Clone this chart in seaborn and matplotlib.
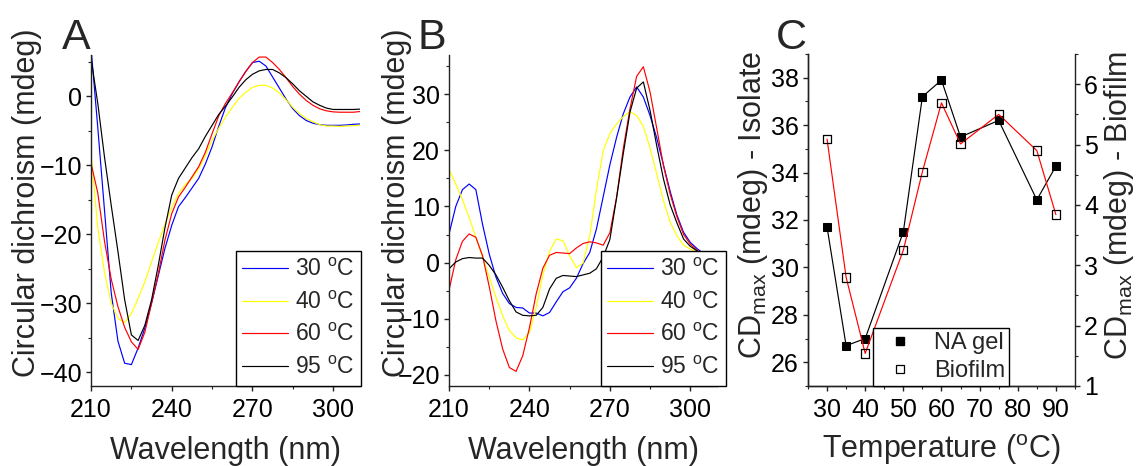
import matplotlib
matplotlib.use("Agg")
import matplotlib.pyplot as plt
import pandas as pd
import seaborn as sns
from matplotlib.lines import Line2D
from matplotlib.ticker import MultipleLocator

# ---------------- data ----------------
wavelength = [210, 212.5, 215, 217.5, 220, 222.5, 225, 227.5, 230, 232.5,
              235, 237.5, 240, 242.5, 245, 247.5, 250, 252.5, 255, 257.5,
              260, 262.5, 265, 267.5, 270, 272.5, 275, 277.5, 280, 282.5,
              285, 287.5, 290, 292.5, 295, 297.5, 300, 302.5, 305, 307.5, 310]

# Panel A: CD spectra (mdeg)
a_30 = [7.0, -4.5, -16.5, -28.5, -35.5, -38.7, -38.9, -36.5, -33.6, -30.0,
        -26.0, -22.0, -18.7, -16.0, -14.7, -13.3, -11.9, -9.8, -7.3, -4.3,
        -1.6, 0.4, 2.1, 3.6, 4.9, 5.1, 4.4, 2.8, 1.2, -0.4,
        -1.8, -2.8, -3.5, -3.9, -4.1, -4.2, -4.2, -4.2, -4.15, -4.05, -4.0]
a_40 = [-8.3, -19.0, -25.5, -30.0, -32.2, -32.8, -31.5, -29.3, -26.9, -24.0,
        -21.2, -18.5, -16.1, -14.1, -12.8, -11.9, -10.5, -8.6, -6.4, -4.6,
        -3.0, -1.6, -0.3, 0.6, 1.3, 1.6, 1.6, 1.2, 0.5, -0.5,
        -1.6, -2.5, -3.2, -3.7, -4.1, -4.3, -4.3, -4.35, -4.3, -4.25, -4.2]
a_60 = [-9.7, -14.0, -21.0, -26.5, -30.5, -33.5, -35.6, -36.7, -34.2, -30.0,
        -25.7, -20.8, -17.0, -14.6, -13.2, -11.7, -10.2, -8.1, -5.4, -2.8,
        -1.0, 0.5, 2.1, 3.6, 4.9, 5.7, 5.7, 4.9, 3.9, 2.7,
        1.4, 0.3, -0.6, -1.3, -1.8, -2.1, -2.25, -2.3, -2.3, -2.3, -2.2]
a_95 = [5.5, -1.0, -8.8, -15.8, -22.5, -29.5, -34.6, -35.4, -33.2, -29.5,
        -24.5, -19.0, -14.3, -11.9, -10.4, -8.9, -7.6, -5.8, -4.2, -2.6,
        -1.4, -0.1, 1.3, 2.4, 3.2, 3.7, 3.9, 3.9, 3.4, 2.7,
        1.8, 0.8, 0.0, -0.8, -1.3, -1.7, -1.9, -1.9, -1.9, -1.9, -1.85]

# Panel B: CD spectra (mdeg)
b_30 = [5.1, 10.0, 13.0, 14.0, 13.0, 6.8, 1.5, -2.6, -5.5, -7.3,
        -8.0, -8.1, -9.0, -9.0, -9.5, -8.9, -7.0, -5.2, -4.5, -2.8,
        -0.2, 1.8, 6.0, 11.7, 17.4, 22.3, 26.5, 29.5, 31.3, 29.5,
        26.2, 22.2, 17.4, 12.7, 8.5, 5.4, 3.6, 2.5, 1.6, 0.4, -0.6]
b_40 = [16.6, 14.0, 11.2, 8.0, 4.5, 1.0, -2.6, -6.2, -9.5, -12.1,
        -13.4, -13.8, -12.5, -8.0, -2.2, 2.0, 4.2, 3.9, 1.2, -0.9,
        -0.1, 4.8, 13.0, 19.9, 23.0, 24.7, 26.0, 26.9, 26.2, 24.3,
        20.4, 15.8, 11.0, 7.2, 4.8, 3.1, 2.4, 1.9, 1.2, 0.4, -0.4]
b_60 = [-4.9, 0.5, 3.8, 5.1, 4.5, 1.2, -4.3, -10.4, -15.4, -18.7,
        -19.4, -16.6, -11.6, -5.6, -1.0, 1.3, 1.8, 1.7, 1.6, 2.6,
        3.4, 3.7, 3.5, 3.1, 5.3, 11.6, 20.3, 27.4, 33.2, 34.9,
        30.4, 23.9, 17.3, 12.2, 8.2, 5.0, 3.3, 2.2, 1.3, 0.3, -0.5]
b_95 = [-1.1, 0.1, 0.7, 0.9, 0.8, 0.8, -0.5, -2.2, -4.4, -6.8,
        -8.8, -9.4, -9.5, -9.4, -8.0, -4.7, -2.8, -2.3, -2.4, -2.5,
        -2.2, -1.9, -1.1, 1.0, 4.1, 11.5, 19.4, 26.8, 31.1, 32.2,
        27.1, 20.8, 14.9, 10.3, 7.1, 4.2, 2.9, 2.1, 1.2, 0.3, -0.5]

# Panel C: CDmax vs temperature
temperature = [30, 35, 40, 50, 55, 60, 65, 75, 85, 90]
cdmax_isolate = [31.7, 26.7, 27.0, 31.5, 37.2, 37.9, 35.5, 36.2, 32.85, 34.27]
cdmax_biofilm = [5.09, 2.80, 1.54, 3.25, 4.55, 5.69, 5.01, 5.50, 4.90, 3.84]

temp_labels = ["30 $^{\\mathregular{o}}$C", "40 $^{\\mathregular{o}}$C",
               "60 $^{\\mathregular{o}}$C", "95 $^{\\mathregular{o}}$C"]
line_colors = ["#0000FF", "#FFFF00", "#FF0000", "#000000"]

# ---------------- style ----------------
sns.set_style("ticks")
plt.rcParams.update({
    "font.family": ["Liberation Sans", "DejaVu Sans"],
    "mathtext.fontset": "custom",
    "mathtext.rm": "Liberation Sans",
    "mathtext.it": "Liberation Sans:italic",
    "mathtext.bf": "Liberation Sans:bold",
    "axes.edgecolor": "#222222",
    "axes.linewidth": 1.0,
    "xtick.color": "#222222",
    "ytick.color": "#222222",
    "xtick.labelcolor": "black",
    "ytick.labelcolor": "black",
    "xtick.direction": "out",
    "ytick.direction": "out",
    "xtick.major.size": 3.5,
    "ytick.major.size": 3.5,
    "xtick.minor.size": 2.0,
    "ytick.minor.size": 2.0,
    "xtick.major.width": 1.0,
    "ytick.major.width": 1.0,
    "xtick.minor.width": 0.8,
    "ytick.minor.width": 0.8,
    "xtick.major.pad": 5,
    "ytick.major.pad": 3,
})

TICK_FS = 18
LABEL_FS = 22
LEG_FS = 16.5
LETTER_FS = 31
LW = 0.85

fig = plt.figure(figsize=(11.38, 4.66), dpi=100)
ax_a = fig.add_axes([0.0800, 0.1717, 0.2364, 0.7103])
ax_b = fig.add_axes([0.3946, 0.1717, 0.2355, 0.7103])
ax_c = fig.add_axes([0.7100, 0.1717, 0.2346, 0.7124])

XLABEL_Y = -0.150
YLABEL_Y = 0.553


def spectra_panel(ax, series, ylim, ymajor, leg_x, ylab_x):
    for vals, lab, col in zip(series, temp_labels, line_colors):
        df = pd.DataFrame({"wl": wavelength, "cd": vals})
        sns.lineplot(data=df, x="wl", y="cd", ax=ax, color=col, lw=LW,
                     label=lab, estimator=None, sort=False)
    ax.set_xlim(210, 310)
    ax.set_ylim(*ylim)
    ax.xaxis.set_major_locator(MultipleLocator(30))
    ax.xaxis.set_minor_locator(MultipleLocator(15))
    ax.yaxis.set_major_locator(MultipleLocator(ymajor))
    ax.yaxis.set_minor_locator(MultipleLocator(ymajor / 2))
    ax.tick_params(labelsize=TICK_FS)
    sns.despine(ax=ax)
    ax.set_xlabel("Wavelength (nm)", fontsize=LABEL_FS)
    ax.set_ylabel("Circular dichroism (mdeg)", fontsize=LABEL_FS)
    ax.xaxis.set_label_coords(0.5, XLABEL_Y)
    ax.yaxis.set_label_coords(ylab_x, YLABEL_Y)
    leg = ax.legend(loc="lower right", bbox_to_anchor=(leg_x, 0.0),
                    borderaxespad=0, fontsize=LEG_FS, frameon=True,
                    fancybox=False, edgecolor="black", framealpha=1,
                    handlelength=2.0, handletextpad=0.3, labelspacing=0.42,
                    borderpad=0.3)
    leg.get_frame().set_linewidth(1.0)


spectra_panel(ax_a, [a_30, a_40, a_60, a_95], (-42, 6), 10, 1.004, -0.182)
spectra_panel(ax_b, [b_30, b_40, b_60, b_95], (-22, 37), 10, 1.034, -0.138)

# Panel C: twin axes
sns.lineplot(x=temperature, y=cdmax_isolate, ax=ax_c, color="black", lw=LW,
             marker="s", markersize=6, markerfacecolor="black",
             markeredgecolor="black", estimator=None, sort=False)
ax_c2 = ax_c.twinx()
sns.lineplot(x=temperature, y=cdmax_biofilm, ax=ax_c2, color="red", lw=LW,
             estimator=None, sort=False)
sns.scatterplot(x=temperature, y=cdmax_biofilm, ax=ax_c2, marker="s", s=36,
                facecolor="none", edgecolor="black", linewidth=0.9, zorder=3)

ax_c.set_xlim(25, 95)
ax_c.set_ylim(25, 39)
ax_c2.set_ylim(1, 6.5)
ax_c.xaxis.set_major_locator(MultipleLocator(10))
ax_c.xaxis.set_minor_locator(MultipleLocator(5))
ax_c.yaxis.set_major_locator(MultipleLocator(2))
ax_c.yaxis.set_minor_locator(MultipleLocator(1))
ax_c2.yaxis.set_major_locator(MultipleLocator(1))
ax_c2.yaxis.set_minor_locator(MultipleLocator(0.5))
ax_c.tick_params(labelsize=TICK_FS)
ax_c2.tick_params(labelsize=TICK_FS)
for a in (ax_c, ax_c2):
    a.spines["top"].set_visible(False)
ax_c.spines["right"].set_visible(False)
ax_c.set_xlabel("Temperature ($^{\\mathregular{o}}$C)", fontsize=LABEL_FS)
ax_c.set_ylabel("CD$_{\\mathregular{max}}$ (mdeg) - Isolate",
                fontsize=LABEL_FS)
ax_c2.set_ylabel("CD$_{\\mathregular{max}}$ (mdeg) - Biofilm",
                 fontsize=LABEL_FS)
ax_c.xaxis.set_label_coords(0.5, -0.138)
ax_c.yaxis.set_label_coords(-0.142, 0.545)
ax_c2.yaxis.set_label_coords(1.101, 0.545)

handles = [
    Line2D([], [], ls="none", marker="s", markersize=6, color="black"),
    Line2D([], [], ls="none", marker="s", markersize=6,
           markerfacecolor="none", markeredgecolor="black", markeredgewidth=0.9),
]
leg_c = ax_c2.legend(handles, ["NA gel", "Biofilm"], loc="lower left",
                     bbox_to_anchor=(0.243, 0.0), borderaxespad=0,
                     fontsize=LEG_FS + 0.5, frameon=True, fancybox=False,
                     edgecolor="black", framealpha=1, handlelength=2.0,
                     handletextpad=0.45, labelspacing=0.28, borderpad=0.15)
leg_c.get_frame().set_linewidth(1.0)

# panel letters
fig.text(0.054, 0.875, "A", fontsize=LETTER_FS, ha="left", va="bottom")
fig.text(0.367, 0.875, "B", fontsize=LETTER_FS, ha="left", va="bottom")
fig.text(0.682, 0.875, "C", fontsize=LETTER_FS, ha="left", va="bottom")

fig.savefig("out.png", dpi=100)
